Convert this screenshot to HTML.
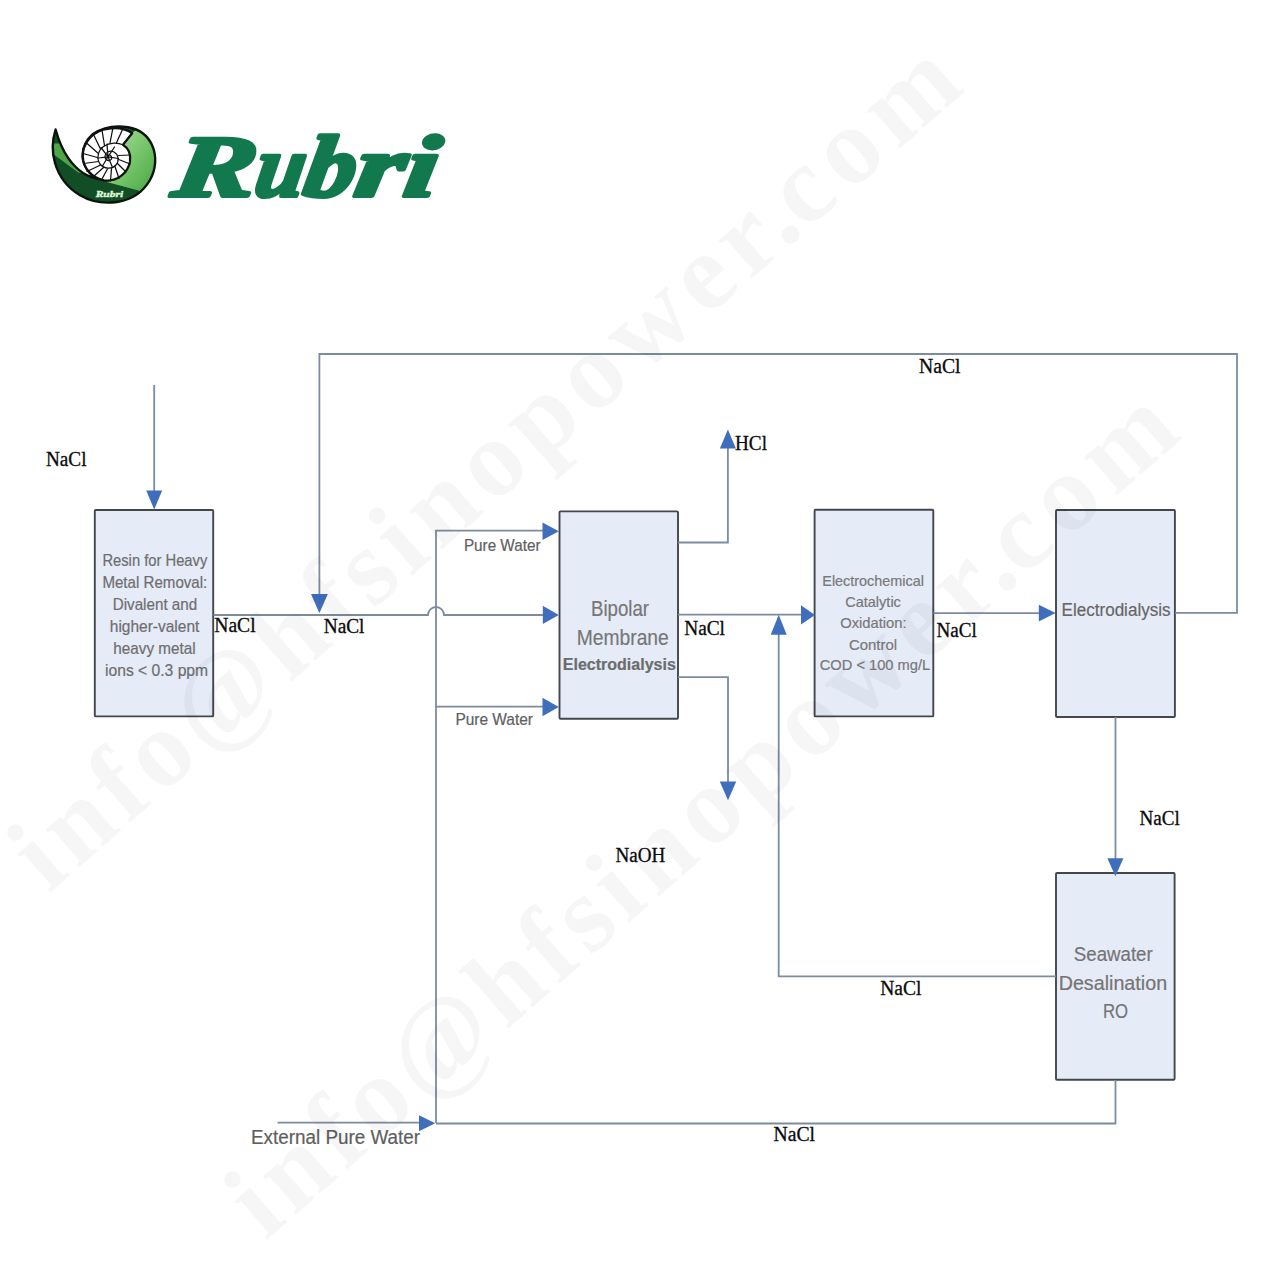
<!DOCTYPE html>
<html lang="en">
<head>
<meta charset="utf-8">
<title>Rubri - NaCl bipolar membrane electrodialysis process flow</title>
<style>
html,body{margin:0;padding:0;background:#fff;}
body{width:1282px;height:1282px;overflow:hidden;position:relative;}
svg{position:absolute;left:0;top:0;display:block;}
.ser{font-family:"Liberation Serif","DejaVu Serif",serif;font-size:20px;fill:#0a0a0a;stroke:#0a0a0a;stroke-width:.3px;}
.san{font-family:"Liberation Sans","DejaVu Sans",sans-serif;color:#6e6e6e;fill:currentColor;stroke:currentColor;stroke-width:.2px;}
.wm{font-family:"Liberation Serif","DejaVu Serif",serif;font-weight:bold;fill:#000;fill-opacity:.034;}
.ln{fill:none;stroke:#7c8c9f;stroke-width:1.8;}
.hd{fill:#3f6fbc;stroke:none;}
.bx{fill:#e6ebf8;stroke:#43474d;stroke-width:1.9;}
</style>
</head>
<body>
<svg width="1282" height="1282" viewBox="0 0 1282 1282">
<defs>
<linearGradient id="lg" x1="0" y1="0" x2="1" y2="1">
<stop offset="0" stop-color="#b8e4aa"/><stop offset=".55" stop-color="#6fc163"/><stop offset="1" stop-color="#3f9c3b"/>
</linearGradient>
</defs>

<g id="boxes">
<rect class="bx" x="94.8" y="510" width="118.4" height="206.4" rx="1"/>
<rect class="bx" x="559.5" y="511.4" width="118.5" height="207.4" rx="1"/>
<rect class="bx" x="814.6" y="509.8" width="118.7" height="206.6" rx="1"/>
<rect class="bx" x="1056" y="510" width="118.9" height="207" rx="1"/>
<rect class="bx" x="1056" y="873" width="118.6" height="206.8" rx="1"/>
</g>
<g id="lines">
<polyline class="ln" points="154.2,385 154.2,495"/>
<polygon class="hd" points="154.2,509.5 146.2,490.5 162.2,490.5"/>
<path class="ln" d="M213.5 615 H428 A8 8 0 0 1 444 615 H545"/>
<polygon class="hd" points="558.8,614.9 542.8,605.7 542.8,624.1"/>
<polyline class="ln" points="1175,612.8 1237,612.8 1237,354 319.4,354 319.4,598"/>
<polygon class="hd" points="319.4,613.2 311,593.9 327.8,593.9"/>
<polyline class="ln" points="436,1123 436,530.7 545,530.7"/>
<polygon class="hd" points="558.8,531.2 542.5,522.45 542.5,539.95"/>
<polyline class="ln" points="436,706.7 545,706.7"/>
<polygon class="hd" points="558.8,707 542.5,697.8 542.5,716.2"/>
<polyline class="ln" points="277.5,1122.6 422,1122.6"/>
<polygon class="hd" points="435.3,1123.3 419,1115.3 419,1131.3"/>
<polyline class="ln" points="436,1123.5 1115.5,1123.5 1115.5,1080"/>
<polyline class="ln" points="678,542.5 727.9,542.5 727.9,444"/>
<polygon class="hd" points="727.9,429.5 719.9,448.5 735.9,448.5"/>
<polyline class="ln" points="678,677.2 728,677.2 728,786"/>
<polygon class="hd" points="728,800.3 719.8,781.5 736.2,781.5"/>
<polyline class="ln" points="678,614.7 803,614.7"/>
<polygon class="hd" points="815,614.9 801,605.2 801,624.6"/>
<polyline class="ln" points="1056,976.3 778.7,976.3 778.7,630"/>
<polygon class="hd" points="778.7,614.7 770.7,634.7 786.7,634.7"/>
<polyline class="ln" points="933.3,613.2 1042,613.2"/>
<polygon class="hd" points="1055.6,613.1 1038.8,604.7 1038.8,621.5"/>
<polyline class="ln" points="1115.5,717 1115.5,862"/>
<polygon class="hd" points="1115.4,876.3 1107.35,858.3 1123.45,858.3"/>
</g>
<g id="labels">
<text class="ser" x="46" y="465.8" textLength="40.5" lengthAdjust="spacingAndGlyphs">NaCl</text>
<text class="ser" x="214.3" y="632.2" textLength="41.3" lengthAdjust="spacingAndGlyphs">NaCl</text>
<text class="ser" x="323.7" y="633.2" textLength="40.8" lengthAdjust="spacingAndGlyphs">NaCl</text>
<text class="ser" x="735" y="450" textLength="32" lengthAdjust="spacingAndGlyphs">HCl</text>
<text class="ser" x="684.2" y="634.7" textLength="40.8" lengthAdjust="spacingAndGlyphs">NaCl</text>
<text class="ser" x="936.6" y="637" textLength="40.2" lengthAdjust="spacingAndGlyphs">NaCl</text>
<text class="ser" x="919" y="372.6" textLength="41.5" lengthAdjust="spacingAndGlyphs">NaCl</text>
<text class="ser" x="1139.5" y="824.5" textLength="40.3" lengthAdjust="spacingAndGlyphs">NaCl</text>
<text class="ser" x="615.6" y="862.1" textLength="49.8" lengthAdjust="spacingAndGlyphs">NaOH</text>
<text class="ser" x="880.2" y="994.9" textLength="41.2" lengthAdjust="spacingAndGlyphs">NaCl</text>
<text class="ser" x="773.5" y="1141" textLength="41.5" lengthAdjust="spacingAndGlyphs">NaCl</text>
</g>
<g id="boxtext">
<text class="san" x="102.4" y="566.3" font-size="15.96" textLength="104.9" lengthAdjust="spacingAndGlyphs">Resin for Heavy</text>
<text class="san" x="102.4" y="588.1" font-size="15.96" textLength="104.9" lengthAdjust="spacingAndGlyphs">Metal Removal:</text>
<text class="san" x="112.7" y="610.2" font-size="15.96" textLength="84.5" lengthAdjust="spacingAndGlyphs">Divalent and</text>
<text class="san" x="109.8" y="632" font-size="15.96" textLength="89.5" lengthAdjust="spacingAndGlyphs">higher-valent</text>
<text class="san" x="113.3" y="654" font-size="15.96" textLength="82.4" lengthAdjust="spacingAndGlyphs">heavy metal</text>
<text class="san" x="105" y="675.6" font-size="15.96" textLength="103.1" lengthAdjust="spacingAndGlyphs">ions &lt; 0.3 ppm</text>
<text class="san" x="591" y="616" font-size="21.53" textLength="58" lengthAdjust="spacingAndGlyphs" style="color:#767676">Bipolar</text>
<text class="san" x="576.7" y="645" font-size="21.53" textLength="92.1" lengthAdjust="spacingAndGlyphs" style="color:#767676">Membrane</text>
<text class="san" x="562.8" y="670" font-size="16.8" textLength="113" lengthAdjust="spacingAndGlyphs" font-weight="bold" style="color:#6c6c6c">Electrodialysis</text>
<text class="san" x="822.3" y="586" font-size="15.12" textLength="101.6" lengthAdjust="spacingAndGlyphs" style="color:#787878">Electrochemical</text>
<text class="san" x="845.2" y="607" font-size="15.12" textLength="55.7" lengthAdjust="spacingAndGlyphs" style="color:#787878">Catalytic</text>
<text class="san" x="840.2" y="628.4" font-size="15.12" textLength="66.4" lengthAdjust="spacingAndGlyphs" style="color:#787878">Oxidation:</text>
<text class="san" x="849" y="649.6" font-size="15.12" textLength="48.1" lengthAdjust="spacingAndGlyphs" style="color:#787878">Control</text>
<text class="san" x="819.8" y="669.6" font-size="15.12" textLength="110.3" lengthAdjust="spacingAndGlyphs" style="color:#787878">COD &lt; 100 mg/L</text>
<text class="san" x="1061.5" y="616.4" font-size="18.69" textLength="109.1" lengthAdjust="spacingAndGlyphs" style="color:#666">Electrodialysis</text>
<text class="san" x="1073.8" y="961" font-size="20.48" textLength="78.9" lengthAdjust="spacingAndGlyphs" style="color:#747474">Seawater</text>
<text class="san" x="1058.7" y="990" font-size="20.48" textLength="108.4" lengthAdjust="spacingAndGlyphs" style="color:#747474">Desalination</text>
<text class="san" x="1102.9" y="1018.4" font-size="20.48" textLength="25.1" lengthAdjust="spacingAndGlyphs" style="color:#747474">RO</text>
<text class="san" x="463.9" y="550.6" font-size="16.38" textLength="76.6" lengthAdjust="spacingAndGlyphs" style="color:#606060">Pure Water</text>
<text class="san" x="455.4" y="724.6" font-size="16.38" textLength="77.6" lengthAdjust="spacingAndGlyphs" style="color:#606060">Pure Water</text>
<text class="san" x="251" y="1143.5" font-size="19.95" textLength="169" lengthAdjust="spacingAndGlyphs" style="color:#5e5e5e">External Pure Water</text>
</g>
<g id="logo">
<defs>
<clipPath id="bodyclip"><path d="M55.6 129.5 C52.2 140 51.8 152 55 163 C58.5 175 67 187.5 80 195.3 C91 201.8 104 203.8 117 202 C131 200 143 192 150 180 C156 169.5 157 156 152 145 C147.5 135 138 129 128 127.2 C117 125.4 104 126.6 93 134 C86 140 82.5 148 82.5 156 C83 166 89 175 99 179 C88 177.5 76.5 170 68.5 158.5 C62.5 150 58.5 140 55.6 129.5 Z"/></clipPath>
</defs>
<!-- body silhouette -->
<path d="M55.6 129.5 C52.2 140 51.8 152 55 163 C58.5 175 67 187.5 80 195.3 C91 201.8 104 203.8 117 202 C131 200 143 192 150 180 C156 169.5 157 156 152 145 C147.5 135 138 129 128 127.2 C117 125.4 104 126.6 93 134 C86 140 82.5 148 82.5 156 C83 166 89 175 99 179 C88 177.5 76.5 170 68.5 158.5 C62.5 150 58.5 140 55.6 129.5 Z" fill="#114d25"/>
<g clip-path="url(#bodyclip)">
<!-- left light wedge -->
<path d="M50 143.6 L50 152 L55.1 155.6 L78.5 172.8 L86 173 L62 143.6 Z" fill="#4fa647"/>
<!-- right light band -->
<path d="M132 133 L150 120 L165 140 L165 175 L145 196 L138.5 190.6 L105.8 181.8 C116 181 126 174.5 129.5 163 C131.5 155 128.5 148.5 123 144.5 Z" fill="url(#lg)"/>
</g>
<path d="M55.6 129.5 C52.2 140 51.8 152 55 163 C58.5 175 67 187.5 80 195.3 C91 201.8 104 203.8 117 202 C131 200 143 192 150 180 C156 169.5 157 156 152 145 C147.5 135 138 129 128 127.2 C117 125.4 104 126.6 93 134 C86 140 82.5 148 82.5 156 C83 166 89 175 99 179 C88 177.5 76.5 170 68.5 158.5 C62.5 150 58.5 140 55.6 129.5 Z" fill="none" stroke="#0c130c" stroke-width="2.4" stroke-linejoin="round"/>
<!-- shell -->
<path d="M132.2 133.2 C125 128.3 114 126.8 103 129.8 C90 134 82.8 145 82.8 156 C83 168 92 178 104 180.3 C117 182 128 173 130 161.5 C131 154 128 148 123 144.8 Z" fill="#fff" stroke="#111" stroke-width="2.2" stroke-linejoin="round"/>
<g fill="none" stroke="#111" stroke-width="1.25" stroke-linecap="round">
<path d="M123 144.8 C118 142.5 110 142 103.5 146.5 C97.5 151 96.5 159 100 164 C104 169 112 169.5 116 165 C119.5 161 118.5 154.5 114 152 C110 150 105.5 152 105 156 C104.8 159.5 108 161.5 110.5 160 C112.3 158.8 112 156 110 155.3"/>
<path d="M123 144.8 L131.5 133.5 M116.5 142.7 L122.5 129.5 M110 142.8 L113 127.5 M104.5 145.5 L102 130.2 M100.5 149 L93.5 134.5 M97.8 153 L86.5 143 M97.3 157.5 L83 153.5 M98.3 161.5 L83.8 163.5 M100.5 165 L87 171.5 M103.5 167.5 L93 177 M107.5 168.8 L101.5 180 M111.5 168.5 L110.5 181 M115 166.5 L119 178.5 M117.5 163.5 L126 172 M118.8 159.5 L130 164 M118.5 155.5 L130.5 155"/>
<path d="M108 156.8 L101 147.5 M108 156.8 L98.5 158 M108 156.8 L102.5 166 M108 156.8 L112.5 167.5 M108 156.8 L118.5 158.5 M108 156.8 L114.5 147 M108 156.8 L107 144"/>
</g>
<text x="95.7" y="196.6" font-family="'Liberation Serif','DejaVu Serif',serif" font-size="9" font-weight="bold" font-style="italic" fill="#dff6d6" stroke="#dff6d6" stroke-width="0.4" textLength="27.5" lengthAdjust="spacingAndGlyphs">Rubri</text>
<text transform="translate(170.5 196.2) skewX(-9)" font-family="'Liberation Serif','DejaVu Serif',serif" font-size="87.5" font-weight="bold" font-style="italic" fill="#12794f" stroke="#12794f" stroke-width="4" stroke-linejoin="round"><tspan textLength="82" lengthAdjust="spacingAndGlyphs">R</tspan><tspan textLength="49" lengthAdjust="spacingAndGlyphs">u</tspan><tspan textLength="51" lengthAdjust="spacingAndGlyphs">b</tspan><tspan textLength="49" lengthAdjust="spacingAndGlyphs">r</tspan><tspan textLength="33" lengthAdjust="spacingAndGlyphs">i</tspan></text>
</g>

<g id="watermark">
<text class="wm" transform="translate(48.6 894) rotate(-41.2)" font-size="110" letter-spacing="6.8" dx="0 0 0 0 0 0 0 0 0 1.7 1.7 1.7 1.7 1.7 1.7 1.7 1.7 -7.8 3 3">info@hfsinopower.com</text>
<text class="wm" transform="translate(265.6 1241) rotate(-41.2)" font-size="110" letter-spacing="6.8" dx="0 0 0 0 0 0 0 0 0 1.7 1.7 1.7 1.7 1.7 1.7 1.7 1.7 -7.8 3 3">info@hfsinopower.com</text>
</g>
</svg>
</body>
</html>
